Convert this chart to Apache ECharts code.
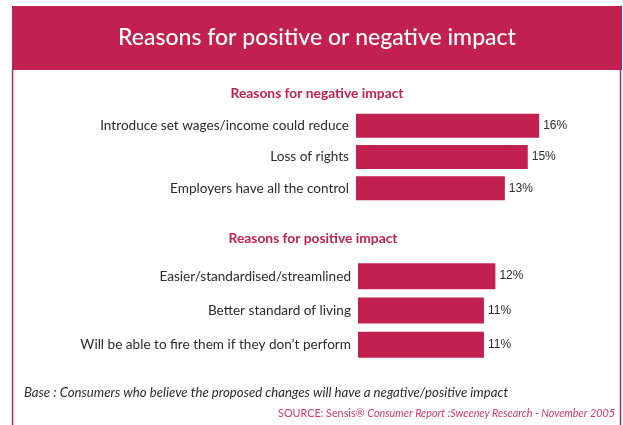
<!DOCTYPE html>
<html>
<head>
<meta charset="utf-8">
<script src="https://cdn.jsdelivr.net/npm/echarts@6/dist/echarts.min.js"></script>
<style>
  html, body { margin: 0; padding: 0; background: #ffffff; }
  #chart { width: 623px; height: 425px; }
</style>
</head>
<body>
<div id="chart"></div>
<script>
// Survey results: reasons people expect a negative or positive impact
const chartTitle = 'Reasons for positive or negative impact';
const negHeading = 'Reasons for negative impact';
const posHeading = 'Reasons for positive impact';

const negCategories = [
  'Introduce set wages/income could reduce',
  'Loss of rights',
  'Employers have all the control'
];
const negValues = [16, 15, 13];

const posCategories = [
  'Easier/standardised/streamlined',
  'Better standard of living',
  'Will be able to fire them if they don\u2019t perform'
];
const posValues = [12, 11, 11];

const baseNote = 'Base : Consumers who believe the proposed changes will have a negative/positive impact';
const sourcePrefix = 'SOURCE: Sensis\u00AE ';
const sourceRest = 'Consumer Report :Sweeney Research - November 2005';

const crimson = '#c2214f';
const textDark = '#2b2b2b';
const labelFont = 'Lato';

function barSeries(axisIndex, values, barWidth) {
  return {
    type: 'bar',
    xAxisIndex: axisIndex,
    yAxisIndex: axisIndex,
    data: values,
    barWidth: barWidth,
    itemStyle: { color: crimson },
    label: {
      show: true,
      position: 'right',
      distance: 4,
      formatter: '{c}%',
      color: textDark,
      fontFamily: 'Liberation Sans',
      fontSize: 12
    },
    silent: true
  };
}

function valueAxis(gridIndex) {
  return {
    type: 'value',
    gridIndex: gridIndex,
    min: 0,
    max: 20,
    show: false
  };
}

function categoryAxis(gridIndex, cats) {
  return {
    type: 'category',
    gridIndex: gridIndex,
    data: cats,
    inverse: true,
    axisLine: { show: false },
    axisTick: { show: false },
    splitLine: { show: false },
    axisLabel: {
      margin: 7,
      color: textDark,
      fontFamily: labelFont,
      fontSize: 13.6
    }
  };
}

const chart = echarts.init(document.getElementById('chart'), null, { renderer: 'canvas' });

chart.setOption({
  backgroundColor: '#ffffff',
  animation: false,
  grid: [
    { left: 356, width: 229, top: 110, height: 94 },
    { left: 358, width: 229, top: 259, height: 103 }
  ],
  xAxis: [valueAxis(0), valueAxis(1)],
  yAxis: [categoryAxis(0, negCategories), categoryAxis(1, posCategories)],
  series: [barSeries(0, negValues, 24), barSeries(1, posValues, 26)],
  graphic: [
    // frame
    {
      type: 'rect',
      shape: { x: 12, y: 6, width: 610, height: 64 },
      style: { fill: crimson },
      silent: true
    },
    {
      type: 'line',
      shape: { x1: 12.5, y1: 70, x2: 12.5, y2: 425 },
      style: { stroke: crimson, lineWidth: 1.5 },
      silent: true
    },
    {
      type: 'line',
      shape: { x1: 620.5, y1: 70, x2: 620.5, y2: 425 },
      style: { stroke: crimson, lineWidth: 1.5 },
      silent: true
    },
    {
      type: 'text',
      x: 317, y: 38,
      style: {
        text: chartTitle,
        fill: '#ffffff',
        font: '500 23px Lato',
        align: 'center',
        verticalAlign: 'middle'
      },
      silent: true
    },
    {
      type: 'text',
      x: 317, y: 94,
      style: {
        text: negHeading,
        fill: crimson,
        font: 'bold 13.8px Lato',
        align: 'center',
        verticalAlign: 'middle'
      },
      silent: true
    },
    {
      type: 'text',
      x: 313, y: 239,
      style: {
        text: posHeading,
        fill: crimson,
        font: 'bold 13.8px Lato',
        align: 'center',
        verticalAlign: 'middle'
      },
      silent: true
    },
    {
      type: 'text',
      x: 24, y: 393,
      style: {
        text: baseNote,
        fill: textDark,
        font: 'italic 13.2px Lato',
        align: 'left',
        verticalAlign: 'middle'
      },
      silent: true
    },
    {
      type: 'text',
      x: 615, y: 414,
      style: {
        text: '{n|' + sourcePrefix + '}{i|' + sourceRest + '}',
        align: 'right',
        verticalAlign: 'middle',
        rich: {
          n: { fill: '#d2386b', font: '10.8px Lato' },
          i: { fill: '#d2386b', font: 'italic 10.8px Lato' }
        }
      },
      silent: true
    }
  ]
});
</script>
</body>
</html>
